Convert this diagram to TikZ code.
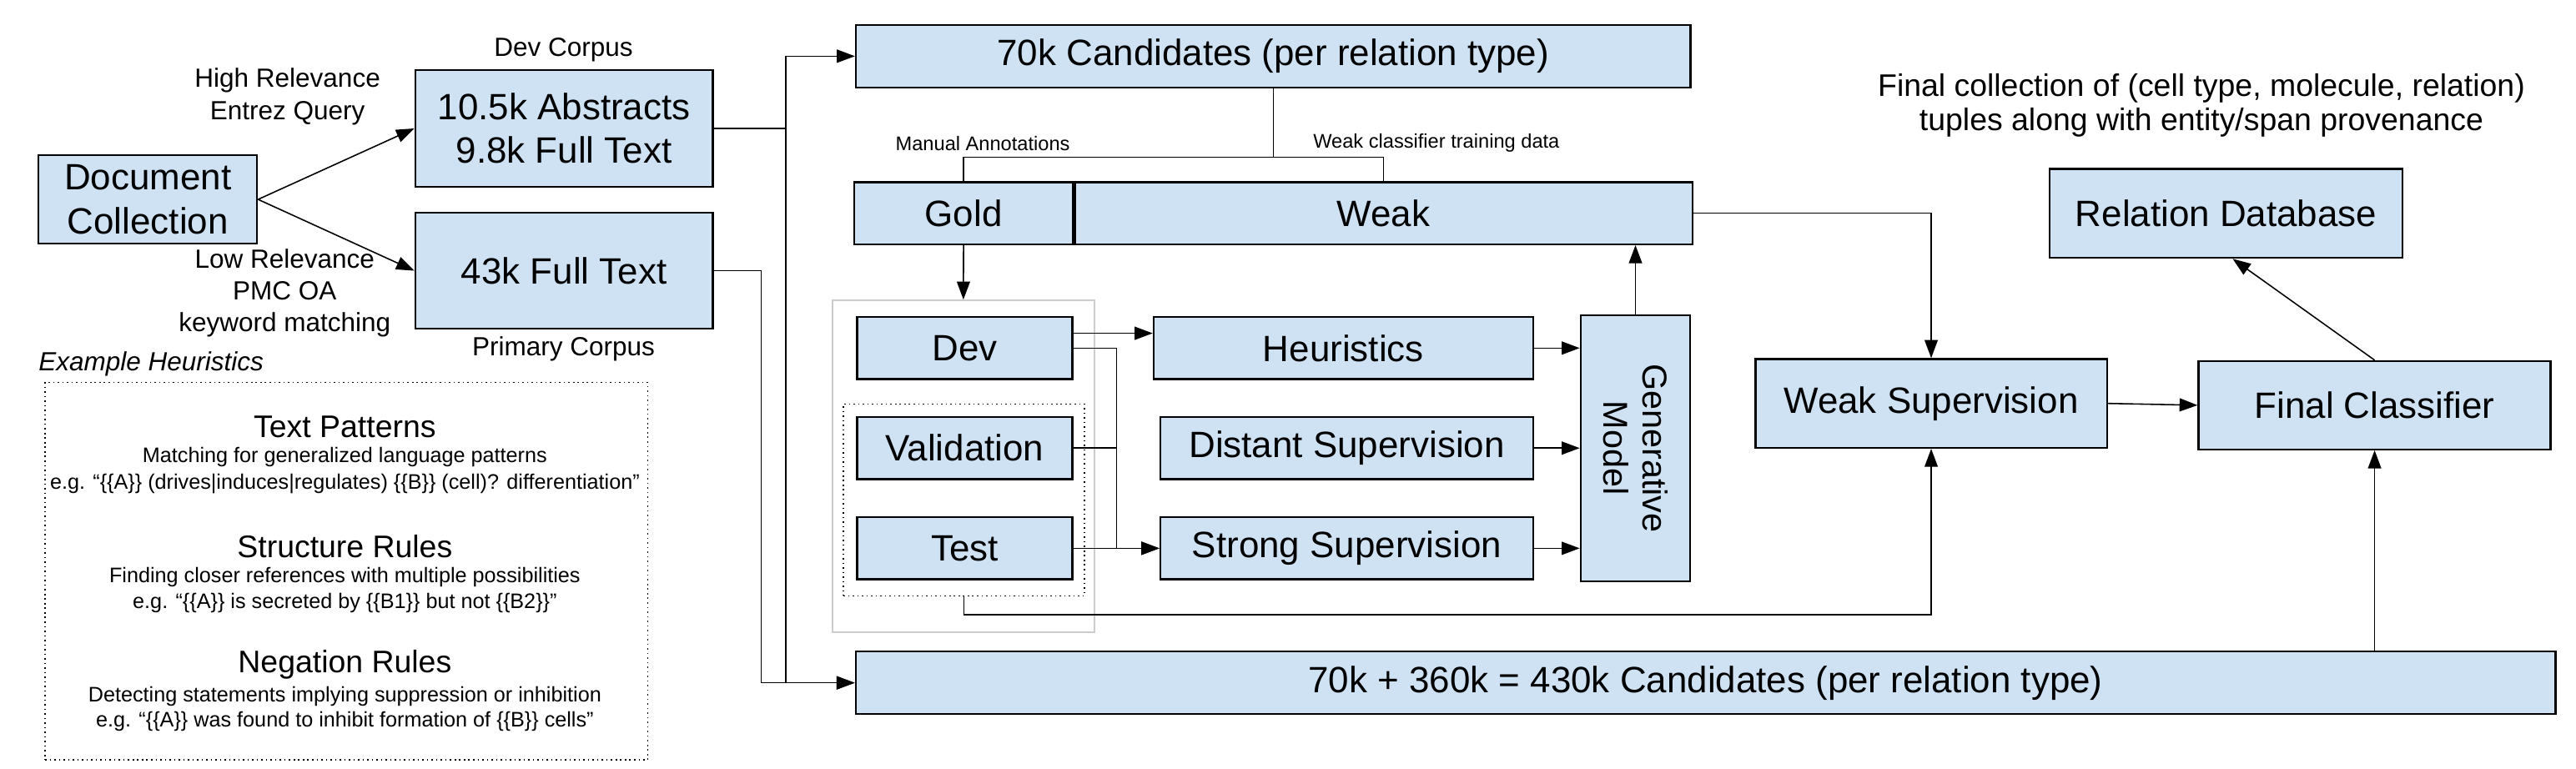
\documentclass[tikz,border=0pt]{standalone}
\usepackage{fontspec}
\setmainfont{Liberation Sans}
\usepackage{tikz}
\usetikzlibrary{arrows.meta, positioning, calc}

\definecolor{boxblue}{RGB}{207,226,243}
\definecolor{framegray}{RGB}{204,204,204}

\newcommand{\fsbox}{\fontsize{22.3}{26.5}\selectfont}
\newcommand{\fsgm}{\fontsize{21}{24}\selectfont}
\newcommand{\fslabel}{\fontsize{16}{19.5}\selectfont}
\newcommand{\fsnote}{\fontsize{19}{21}\selectfont}
\newcommand{\fssmall}{\fontsize{12}{14}\selectfont}
\newcommand{\fshead}{\fontsize{19}{22}\selectfont}
\newcommand{\fsbody}{\fontsize{12.8}{16}\selectfont}

\tikzstyle{block} = [rectangle, draw=black, fill=boxblue, very thick, inner sep=0pt, text centered, align=center, font=\fsbox]
\tikzstyle{setframe} = [rectangle, draw=framegray, thick, inner sep=0pt]
\tikzstyle{heldout} = [rectangle, draw=black, dotted, thick, inner sep=0pt]
\tikzstyle{tag} = [inner sep=0pt, align=center, font=\fslabel]

\begin{document}
\begin{tikzpicture}[x=1pt, y=-1pt, >={Triangle[length=11pt,width=8pt]}]
	\useasboundingbox (0,0) rectangle (1568,468);
	
	% documents
	\node[block, minimum width=133pt, minimum height=54pt] (doc) at (90,121.4) {Document\\Collection};
	\node[block, minimum width=181pt, minimum height=71pt] (abs) at (343.3,78.2) {10.5k Abstracts\\9.8k Full Text};
	\node[block, minimum width=181pt, minimum height=70.6pt] (full) at (343.3,164.8) {43k Full Text};
	\node[tag] (devcorpus) at (343,30.5) {Dev Corpus};
	\node[tag] (primcorpus) at (343,212.4) {Primary Corpus};
	\node[tag] (high) at (175,58.8) {High Relevance\\Entrez Query};
	\node[tag] (low) at (173.3,178.4) {Low Relevance\\PMC OA\\keyword matching};
	
	% example heuristics
	\node[tag, anchor=west, font=\fslabel\itshape] (extitle) at (23.3,221.8) {Example Heuristics};
	\node[heldout, minimum width=366.7pt, minimum height=229.9pt] (exbox) at (210.85,347.75) {};
	\node[font=\fshead] (tp) at (209.9,259.9) {Text Patterns};
	\node[font=\fsbody] (tp1) at (209.9,278.5) {Matching for generalized language patterns};
	\node[font=\fsbody] (tp2) at (209.9,294.6) {e.g. “\{\{A\}\} (drives|induces|regulates) \{\{B\}\} (cell)? differentiation”};
	\node[font=\fshead] (sr) at (209.9,332.7) {Structure Rules};
	\node[font=\fsbody] (sr1) at (209.9,351.6) {Finding closer references with multiple possibilities};
	\node[font=\fsbody] (sr2) at (209.9,367) {e.g. “\{\{A\}\} is secreted by \{\{B1\}\} but not \{\{B2\}\}”};
	\node[font=\fshead] (nr) at (209.9,404.6) {Negation Rules};
	\node[font=\fsbody] (nr1) at (209.9,424) {Detecting statements implying suppression or inhibition};
	\node[font=\fsbody] (nr2) at (209.9,439.3) {e.g. “\{\{A\}\} was found to inhibit formation of \{\{B\}\} cells”};
	
	% candidates
	\node[block, minimum width=508pt, minimum height=38pt] (cand70) at (775,34.2) {70k Candidates (per relation type)};
	\node[block, minimum width=133pt, minimum height=37.7pt] (gold) at (586.5,129.8) {Gold};
	\node[block, minimum width=376pt, minimum height=37.7pt, right=0pt of gold] (weak) {Weak};
	\node[tag, font=\fssmall] (manual) at (598.2,87.2) {Manual Annotations};
	\node[tag, font=\fssmall] (train) at (874.3,87.2) {Weak classifier training data};
	\node[block, minimum width=1034.7pt, minimum height=38.1pt] (cand430) at (1038.2,415.7) {70k + 360k = 430k Candidates (per relation type)};
	
	% splits
	\node[setframe, minimum width=159.4pt, minimum height=202pt] (sets) at (586.4,283.8) {};
	\node[heldout, minimum width=146.7pt, minimum height=116.8pt] (held) at (586.75,304.4) {};
	\node[block, minimum width=131pt, minimum height=37.7pt] (dev) at (587.2,211.9) {Dev};
	\node[block, minimum width=131pt, minimum height=37.7pt] (val) at (587.2,272.8) {Validation};
	\node[block, minimum width=131pt, minimum height=37.7pt] (test) at (587.2,333.8) {Test};
	
	% labeling
	\node[block, minimum width=231pt, minimum height=37.7pt] (heur) at (817.7,211.9) {Heuristics};
	\node[block, minimum width=227pt, minimum height=37.7pt] (dist) at (819.8,272.8) {Distant Supervision};
	\node[block, minimum width=227pt, minimum height=37.7pt] (strong) at (819.8,333.8) {Strong Supervision};
	\node[block, minimum width=66.7pt, minimum height=162pt] (gm) at (995.5,272.8) {};
	\node[rotate=-90, align=center, font=\fsgm] (gmtext) at (gm.center) {Generative\\Model};
	
	% final stage
	\node[block, minimum width=214pt, minimum height=54pt] (ws) at (1175.5,245.6) {Weak Supervision};
	\node[block, minimum width=214.3pt, minimum height=53.7pt] (fc) at (1445.4,246.7) {Final Classifier};
	\node[block, minimum width=214.7pt, minimum height=54.1pt] (rd) at (1355,129.9) {Relation Database};
	\node[tag, font=\fsnote] (finalnote) at (1340,64) {Final collection of (cell type, molecule, relation)\\tuples along with entity/span provenance};
	
	%arrow
	\draw [->, thick] (doc.east) -- (abs.west);
	\draw [->, thick] (doc.east) -- (full.west);
	\draw [->, thick] (abs.east) -- ++(44,0) |- (cand70.west);
	\draw [->, thick] (abs.east) -- ++(44,0) |- (cand430.west);
	\draw [->, thick] (full.east) -- ++(29,0) |- (cand430.west);
	\coordinate (split) at (775,95.7);
	\draw [thick] (cand70.south) -- (split);
	\draw [thick] (gold.north) |- (split) -| (weak.north);
	\draw [->, thick] (gold.south) -- (sets.north);
	\draw [->, thick] ([yshift=9pt]dev.east) -- ([yshift=9pt]dev.east -| heur.west);
	\draw [->, thick] (dev.east) -- ++(26.4,0) |- (strong.west);
	\draw [thick] (val.east) -- ++(26.4,0);
	\draw [->, thick] (test.east) -- (strong.west);
	\draw [->, thick] (heur.east) -- (heur.east -| gm.west);
	\draw [->, thick] (dist.east) -- (dist.east -| gm.west);
	\draw [->, thick] (strong.east) -- (strong.east -| gm.west);
	\draw [->, thick] (gm.north) -- (gm.north |- weak.south);
	\draw [->, thick] (held.south) -- ++(0,11) -| (ws.south);
	\draw [->, thick] (weak.east) -| (ws.north);
	\draw [->, thick] (ws.east) -- (fc.west);
	\draw [->, thick] (fc.north) -- ([xshift=4pt]rd.south);
	\draw [->, thick] (fc.south |- cand430.north) -- (fc.south);
\end{tikzpicture}
\end{document}
